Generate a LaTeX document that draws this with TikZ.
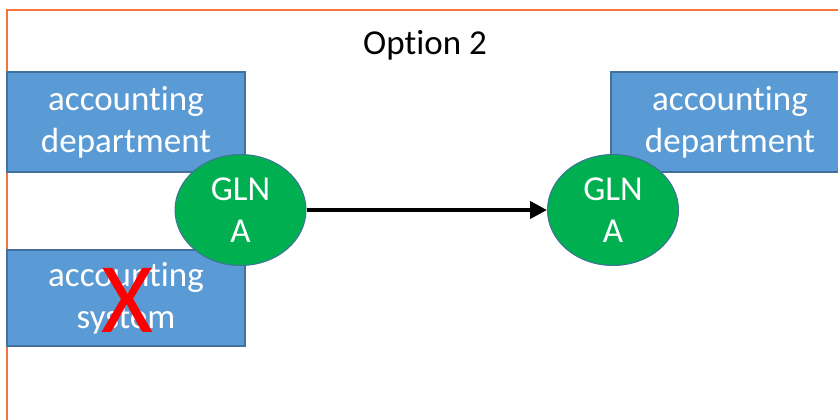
\documentclass[tikz,border=0pt]{standalone}
\usepackage{fontspec}
\setmainfont[Ligatures=NoCommon]{Carlito}
\usetikzlibrary{shapes.geometric,arrows.meta}
\definecolor{boxblue}{HTML}{5B9BD5}
\definecolor{boxedge}{HTML}{41719C}
\definecolor{glngreen}{HTML}{00B050}
\definecolor{frameorange}{HTML}{F4743B}
\tikzset{
  deptbox/.style={draw=boxedge, line width=1.3pt, fill=boxblue, text=white,
    minimum width=238pt, inner sep=0pt, align=center,
    font=\fontsize{35}{42}\selectfont},
  glnnode/.style={ellipse, draw=boxedge, line width=1pt, fill=glngreen, text=white,
    minimum width=131pt, minimum height=111pt, inner sep=0pt, align=center,
    font=\fontsize{35}{42}\selectfont},
  flowarrow/.style={line width=4pt, -{Triangle[length=17pt,width=17pt]}},
}
\begin{document}
\begin{tikzpicture}[x=1pt,y=-1pt]
\useasboundingbox (0,0) rectangle (838,420);
\clip (0,0) rectangle (838,420);
\fill[white] (0,0) rectangle (838,420);
\draw[frameorange, line width=2pt] (6.5,10.5) rectangle (860,440);
\node[font=\fontsize{35}{42}\selectfont] (title) at (425,45) {Option 2};
\node[deptbox, minimum height=100pt] (ldept) at (126,122) {accounting\\department};
\node[deptbox, minimum height=96pt] (lsys) at (126,298) {accounting\\system};
\node[text=red, font=\fontsize{100}{100}\selectfont] (cross) at (127,300) {X};
\node[deptbox, minimum height=100pt] (rdept) at (730,122) {accounting\\department};
\node[glnnode] (lgln) at (240.5,210) {GLN\\A};
\node[glnnode] (rgln) at (613,210) {GLN\\A};
\draw[flowarrow] (lgln.east) -- (rgln.west);
\end{tikzpicture}
\end{document}
